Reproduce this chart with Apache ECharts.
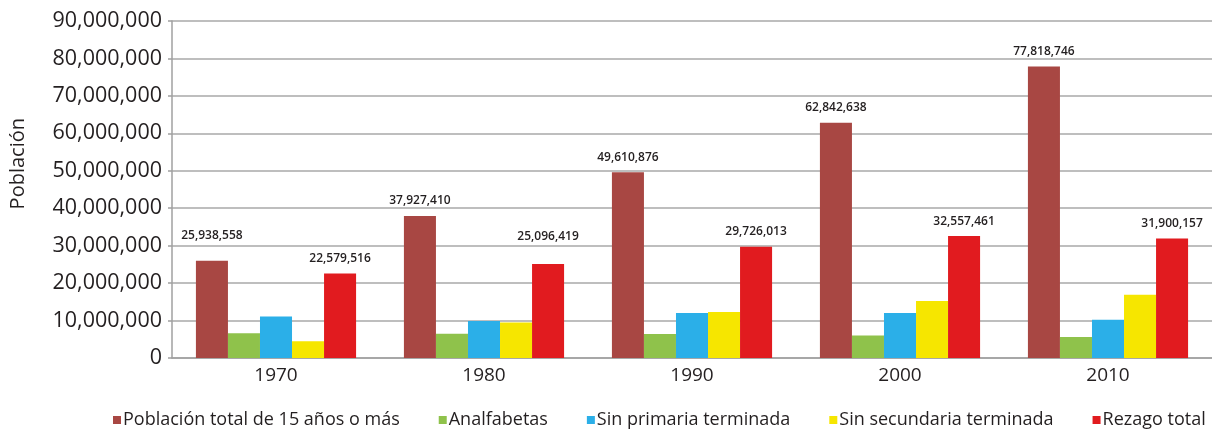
<!DOCTYPE html>
<html>
<head>
<meta charset="utf-8">
<script src="https://cdn.jsdelivr.net/npm/echarts@6/dist/echarts.min.js"></script>
<style>
  html, body { margin: 0; padding: 0; background: #ffffff; }
  #chart { width: 1212px; height: 429px; }
</style>
</head>
<body>
<div id="chart"></div>
<script>
const categories = ['1970', '1980', '1990', '2000', '2010'];
const seriesNames = [
  'Población total de 15 años o más',
  'Analfabetas',
  'Sin primaria terminada',
  'Sin secundaria terminada',
  'Rezago total'
];
const poblacionTotal = [25938558, 37927410, 49610876, 62842638, 77818746];
const analfabetas = [6600000, 6450000, 6400000, 6000000, 5600000];
const sinPrimaria = [11100000, 9900000, 12000000, 12000000, 10200000];
const sinSecundaria = [4500000, 9500000, 12300000, 15200000, 16900000];
const rezagoTotal = [22579516, 25096419, 29726013, 32557461, 31900157];
const yTicks = [0, 10000000, 20000000, 30000000, 40000000, 50000000, 60000000, 70000000, 80000000, 90000000];

const colors = ['#a84743', '#8fc24b', '#2bafe8', '#f6e600', '#e11b1f'];
const seriesData = [poblacionTotal, analfabetas, sinPrimaria, sinSecundaria, rezagoTotal];
const labelled = [true, false, false, false, true];
// extra vertical offsets for a few labels (styling only)
const labelExtra = { '0-0': -10, '4-1': -12 };

const fmt = v => Math.round(v).toString().replace(/\B(?=(\d{3})+(?!\d))/g, ',');
const textColor = '#231f20';
const fontFam = '"Open Sans", "Noto Sans", sans-serif';

const chart = echarts.init(document.getElementById('chart'), null, { renderer: 'canvas' });

const series = seriesNames.map((name, si) => ({
  name: name,
  type: 'bar',
  barGap: '0%',
  barCategoryGap: '23%',
  itemStyle: { color: colors[si] },
  data: seriesData[si].map((v, ci) => {
    const item = { value: v };
    const extra = labelExtra[si + '-' + ci];
    if (extra) item.label = { offset: [0, extra] };
    return item;
  }),
  label: {
    show: labelled[si],
    position: 'top',
    distance: 9,
    formatter: p => fmt(p.value),
    color: textColor,
    fontFamily: fontFam,
    fontSize: 12,
    fontWeight: 600
  }
}));

chart.setOption({
  animation: false,
  backgroundColor: '#ffffff',
  color: colors,
  grid: { left: 172, right: 0, top: 21, bottom: 71, containLabel: false },
  legend: {
    data: seriesNames,
    left: 108,
    top: 406,
    itemWidth: 8,
    itemHeight: 8,
    itemGap: 39,
    icon: 'rect',
    textStyle: { color: textColor, fontFamily: fontFam, fontSize: 18, padding: [0, 0, 0, -3] }
  },
  xAxis: {
    type: 'category',
    data: categories,
    axisLine: { lineStyle: { color: '#a0a0a0', width: 1.5 } },
    axisTick: { show: false },
    axisLabel: { color: textColor, fontFamily: fontFam, fontSize: 19, margin: 8 }
  },
  yAxis: {
    type: 'value',
    min: yTicks[0],
    max: yTicks[yTicks.length - 1],
    interval: yTicks[1] - yTicks[0],
    axisLine: { show: true, lineStyle: { color: '#a0a0a0', width: 1.5 } },
    axisTick: { show: true, length: 4, lineStyle: { color: '#a0a0a0', width: 1.5 } },
    splitLine: { lineStyle: { color: '#a8a8a8', width: 1.5 } },
    axisLabel: { color: textColor, fontFamily: fontFam, fontSize: 21.5, margin: 10, formatter: v => fmt(v) }
  },
  graphic: [{
    type: 'text',
    left: 8,
    top: 118,
    rotation: Math.PI / 2,
    style: { text: 'Población', fill: textColor, font: '20px ' + fontFam }
  }],
  series: series
});
</script>
</body>
</html>
